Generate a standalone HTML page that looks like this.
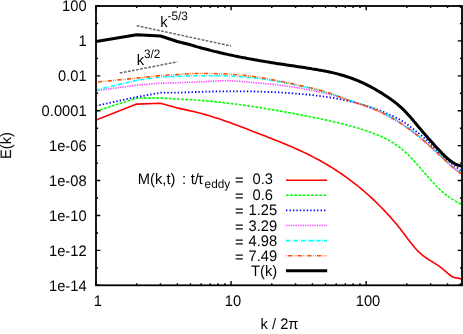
<!DOCTYPE html>
<html><head><meta charset="utf-8"><title>plot</title>
<style>
html,body{margin:0;padding:0;background:#fff;}
body{width:463px;height:334px;position:relative;overflow:hidden;font-family:"Liberation Sans",sans-serif;}
</style></head><body>
<svg width="463" height="334" viewBox="0 0 463 334" style="position:absolute;left:0;top:0">
<defs><clipPath id="c"><rect x="96" y="6" width="366" height="279.3"/></clipPath></defs>
<g clip-path="url(#c)" fill="none" stroke-linejoin="round">
<path d="M96.0,120.0 L136.7,104.1 L160.5,103.3 L177.3,107.9 L190.4,110.9 L192.4,111.3 L194.4,111.8 L196.4,112.3 L198.4,112.8 L200.4,113.3 L202.4,113.8 L204.4,114.4 L206.4,114.9 L208.4,115.5 L210.4,116.1 L212.4,116.7 L214.4,117.4 L216.4,118.0 L218.4,118.6 L220.4,119.3 L222.4,120.0 L224.4,120.7 L226.4,121.4 L228.4,122.1 L230.4,122.8 L232.4,123.5 L234.4,124.3 L236.4,125.0 L238.4,125.8 L240.4,126.5 L242.4,127.3 L244.4,128.1 L246.4,128.8 L248.4,129.6 L250.4,130.4 L252.4,131.2 L254.4,131.9 L256.4,132.7 L258.4,133.5 L260.4,134.3 L262.4,135.0 L264.4,135.8 L266.4,136.6 L268.4,137.4 L270.4,138.1 L272.4,138.9 L274.4,139.7 L276.4,140.5 L278.4,141.3 L280.4,142.1 L282.4,142.9 L284.4,143.7 L286.4,144.6 L288.4,145.4 L290.4,146.3 L292.4,147.1 L294.4,148.0 L296.4,148.9 L298.4,149.8 L300.4,150.7 L302.4,151.6 L304.4,152.6 L306.4,153.5 L308.4,154.5 L310.4,155.5 L312.4,156.6 L314.4,157.6 L316.4,158.7 L318.4,159.7 L320.4,160.8 L322.4,162.0 L324.4,163.1 L326.4,164.3 L328.4,165.5 L330.4,166.7 L332.4,167.9 L334.4,169.2 L336.4,170.5 L338.4,171.8 L340.4,173.1 L342.4,174.5 L344.4,175.9 L346.4,177.3 L348.4,178.8 L350.4,180.3 L352.4,181.8 L354.4,183.3 L356.4,184.9 L358.4,186.5 L360.4,188.1 L362.4,189.8 L364.4,191.5 L366.4,193.3 L368.4,195.0 L370.4,196.9 L372.4,198.7 L374.4,200.6 L376.4,202.5 L378.4,204.5 L380.4,206.5 L382.4,208.5 L384.4,210.6 L386.4,212.7 L388.4,214.9 L390.4,217.1 L392.4,219.4 L394.4,221.7 L396.4,224.1 L398.4,226.6 L400.4,229.1 L402.4,231.7 L404.4,234.3 L406.4,237.0 L408.4,239.7 L410.4,242.3 L412.4,244.8 L414.4,247.3 L416.4,249.5 L418.4,251.6 L420.4,253.4 L422.4,255.1 L424.4,256.6 L426.4,258.0 L428.4,259.3 L430.4,260.6 L432.4,261.8 L434.4,263.1 L436.4,264.4 L438.4,265.7 L440.4,267.2 L442.4,268.7 L444.4,270.4 L446.4,272.2 L448.4,274.0 L450.4,275.5 L452.4,276.8 L454.4,277.6 L456.4,278.0 L458.4,278.1 L460.4,278.7 L462.0,279.9" stroke="#ff0000" stroke-width="1.6"/>
<path d="M96.0,111.1 L136.7,98.2 L160.5,98.0 L177.3,99.0 L190.4,99.8 L192.4,99.9 L194.4,100.0 L196.4,100.2 L198.4,100.3 L200.4,100.5 L202.4,100.6 L204.4,100.8 L206.4,101.0 L208.4,101.1 L210.4,101.3 L212.4,101.5 L214.4,101.7 L216.4,101.9 L218.4,102.1 L220.4,102.3 L222.4,102.5 L224.4,102.8 L226.4,103.0 L228.4,103.2 L230.4,103.5 L232.4,103.7 L234.4,104.0 L236.4,104.2 L238.4,104.5 L240.4,104.8 L242.4,105.0 L244.4,105.3 L246.4,105.6 L248.4,105.9 L250.4,106.2 L252.4,106.5 L254.4,106.8 L256.4,107.1 L258.4,107.4 L260.4,107.7 L262.4,108.1 L264.4,108.4 L266.4,108.7 L268.4,109.1 L270.4,109.4 L272.4,109.7 L274.4,110.1 L276.4,110.4 L278.4,110.8 L280.4,111.1 L282.4,111.5 L284.4,111.9 L286.4,112.2 L288.4,112.6 L290.4,113.0 L292.4,113.3 L294.4,113.7 L296.4,114.1 L298.4,114.5 L300.4,114.8 L302.4,115.2 L304.4,115.6 L306.4,116.0 L308.4,116.4 L310.4,116.8 L312.4,117.2 L314.4,117.6 L316.4,118.0 L318.4,118.4 L320.4,118.9 L322.4,119.3 L324.4,119.7 L326.4,120.1 L328.4,120.6 L330.4,121.0 L332.4,121.5 L334.4,122.0 L336.4,122.4 L338.4,122.9 L340.4,123.4 L342.4,123.9 L344.4,124.4 L346.4,124.9 L348.4,125.5 L350.4,126.0 L352.4,126.5 L354.4,127.1 L356.4,127.7 L358.4,128.2 L360.4,128.8 L362.4,129.5 L364.4,130.1 L366.4,130.8 L368.4,131.4 L370.4,132.2 L372.4,132.9 L374.4,133.7 L376.4,134.4 L378.4,135.3 L380.4,136.1 L382.4,137.0 L384.4,138.0 L386.4,139.0 L388.4,140.1 L390.4,141.2 L392.4,142.4 L394.4,143.7 L396.4,145.0 L398.4,146.4 L400.4,148.0 L402.4,149.6 L404.4,151.3 L406.4,153.1 L408.4,155.0 L410.4,157.0 L412.4,159.1 L414.4,161.2 L416.4,163.5 L418.4,165.7 L420.4,168.0 L422.4,170.4 L424.4,172.7 L426.4,175.0 L428.4,177.3 L430.4,179.5 L432.4,181.8 L434.4,183.9 L436.4,186.0 L438.4,188.0 L440.4,190.0 L442.4,191.8 L444.4,193.6 L446.4,195.2 L448.4,196.7 L450.4,198.1 L452.4,199.4 L454.4,200.6 L456.4,201.7 L458.4,202.7 L460.4,203.8 L462.0,204.6" stroke="#00ff00" stroke-width="1.6" stroke-dasharray="2.77,1.38"/>
<path d="M96.0,105.8 L136.7,97.0 L160.5,92.7 L177.3,92.7 L190.4,92.2 L192.4,92.1 L194.4,92.0 L196.4,92.0 L198.4,91.9 L200.4,91.8 L202.4,91.8 L204.4,91.7 L206.4,91.7 L208.4,91.6 L210.4,91.6 L212.4,91.5 L214.4,91.5 L216.4,91.4 L218.4,91.4 L220.4,91.4 L222.4,91.3 L224.4,91.3 L226.4,91.3 L228.4,91.3 L230.4,91.3 L232.4,91.3 L234.4,91.3 L236.4,91.3 L238.4,91.3 L240.4,91.3 L242.4,91.3 L244.4,91.3 L246.4,91.3 L248.4,91.4 L250.4,91.4 L252.4,91.4 L254.4,91.5 L256.4,91.5 L258.4,91.6 L260.4,91.6 L262.4,91.7 L264.4,91.8 L266.4,91.8 L268.4,91.9 L270.4,92.0 L272.4,92.1 L274.4,92.2 L276.4,92.3 L278.4,92.4 L280.4,92.5 L282.4,92.6 L284.4,92.8 L286.4,92.9 L288.4,93.0 L290.4,93.2 L292.4,93.3 L294.4,93.5 L296.4,93.6 L298.4,93.8 L300.4,93.9 L302.4,94.1 L304.4,94.3 L306.4,94.5 L308.4,94.7 L310.4,94.9 L312.4,95.1 L314.4,95.3 L316.4,95.6 L318.4,95.8 L320.4,96.1 L322.4,96.3 L324.4,96.6 L326.4,96.9 L328.4,97.2 L330.4,97.5 L332.4,97.8 L334.4,98.2 L336.4,98.5 L338.4,98.9 L340.4,99.3 L342.4,99.7 L344.4,100.1 L346.4,100.5 L348.4,100.9 L350.4,101.4 L352.4,101.9 L354.4,102.4 L356.4,102.9 L358.4,103.4 L360.4,104.0 L362.4,104.6 L364.4,105.2 L366.4,105.8 L368.4,106.4 L370.4,107.1 L372.4,107.7 L374.4,108.4 L376.4,109.2 L378.4,109.9 L380.4,110.7 L382.4,111.5 L384.4,112.3 L386.4,113.2 L388.4,114.1 L390.4,115.0 L392.4,115.9 L394.4,116.9 L396.4,117.9 L398.4,118.9 L400.4,120.0 L402.4,121.2 L404.4,122.5 L406.4,123.8 L408.4,125.2 L410.4,126.8 L412.4,128.3 L414.4,129.9 L416.4,131.5 L418.4,133.1 L420.4,134.7 L422.4,136.3 L424.4,138.1 L426.4,139.9 L428.4,141.9 L430.4,144.0 L432.4,146.2 L434.4,148.3 L436.4,150.4 L438.4,152.4 L440.4,154.3 L442.4,156.1 L444.4,157.8 L446.4,159.5 L448.4,161.1 L450.4,162.6 L452.4,164.1 L454.4,165.6 L456.4,167.2 L458.4,168.7 L460.4,170.2 L462.0,171.5" stroke="#0000ff" stroke-width="1.8" stroke-dasharray="1.38,2.08"/>
<path d="M96.0,90.7 L136.7,85.2 L160.5,83.2 L177.3,82.7 L190.4,82.2 L192.4,82.2 L194.4,82.2 L196.4,82.1 L198.4,82.0 L200.4,81.9 L202.4,81.8 L204.4,81.7 L206.4,81.6 L208.4,81.4 L210.4,81.3 L212.4,81.2 L214.4,81.1 L216.4,81.0 L218.4,80.9 L220.4,80.8 L222.4,80.8 L224.4,80.7 L226.4,80.7 L228.4,80.8 L230.4,80.8 L232.4,80.9 L234.4,81.0 L236.4,81.1 L238.4,81.3 L240.4,81.4 L242.4,81.6 L244.4,81.7 L246.4,81.9 L248.4,82.1 L250.4,82.3 L252.4,82.5 L254.4,82.7 L256.4,82.8 L258.4,83.0 L260.4,83.2 L262.4,83.4 L264.4,83.6 L266.4,83.8 L268.4,84.0 L270.4,84.2 L272.4,84.4 L274.4,84.6 L276.4,84.9 L278.4,85.1 L280.4,85.3 L282.4,85.6 L284.4,85.8 L286.4,86.1 L288.4,86.4 L290.4,86.7 L292.4,86.9 L294.4,87.3 L296.4,87.6 L298.4,87.9 L300.4,88.2 L302.4,88.6 L304.4,89.0 L306.4,89.3 L308.4,89.7 L310.4,90.1 L312.4,90.5 L314.4,90.9 L316.4,91.4 L318.4,91.8 L320.4,92.2 L322.4,92.7 L324.4,93.1 L326.4,93.6 L328.4,94.1 L330.4,94.6 L332.4,95.2 L334.4,95.8 L336.4,96.4 L338.4,97.0 L340.4,97.6 L342.4,98.3 L344.4,99.0 L346.4,99.7 L348.4,100.3 L350.4,101.0 L352.4,101.7 L354.4,102.3 L356.4,103.0 L358.4,103.6 L360.4,104.3 L362.4,105.0 L364.4,105.7 L366.4,106.5 L368.4,107.2 L370.4,108.0 L372.4,108.8 L374.4,109.6 L376.4,110.5 L378.4,111.4 L380.4,112.3 L382.4,113.2 L384.4,114.2 L386.4,115.2 L388.4,116.2 L390.4,117.3 L392.4,118.4 L394.4,119.5 L396.4,120.7 L398.4,122.0 L400.4,123.2 L402.4,124.5 L404.4,125.9 L406.4,127.3 L408.4,128.7 L410.4,130.2 L412.4,131.7 L414.4,133.3 L416.4,134.9 L418.4,136.5 L420.4,138.1 L422.4,139.8 L424.4,141.5 L426.4,143.2 L428.4,145.0 L430.4,146.8 L432.4,148.6 L434.4,150.4 L436.4,152.3 L438.4,154.2 L440.4,156.1 L442.4,158.0 L444.4,159.8 L446.4,161.7 L448.4,163.5 L450.4,165.3 L452.4,167.1 L454.4,168.7 L456.4,170.3 L458.4,171.8 L460.4,173.3 L462.0,174.3" stroke="#ff00ff" stroke-width="1.6" stroke-dasharray="0.69,1.04"/>
<path d="M96.0,90.2 L136.7,80.2 L160.5,77.1 L177.3,76.4 L190.4,75.9 L192.4,75.9 L194.4,75.8 L196.4,75.8 L198.4,75.8 L200.4,75.8 L202.4,75.8 L204.4,75.8 L206.4,75.8 L208.4,75.8 L210.4,75.8 L212.4,75.8 L214.4,75.8 L216.4,75.8 L218.4,75.8 L220.4,75.9 L222.4,75.9 L224.4,76.0 L226.4,76.0 L228.4,76.1 L230.4,76.2 L232.4,76.3 L234.4,76.4 L236.4,76.5 L238.4,76.6 L240.4,76.7 L242.4,76.9 L244.4,77.0 L246.4,77.2 L248.4,77.4 L250.4,77.6 L252.4,77.8 L254.4,78.0 L256.4,78.2 L258.4,78.5 L260.4,78.7 L262.4,79.0 L264.4,79.3 L266.4,79.6 L268.4,79.9 L270.4,80.2 L272.4,80.5 L274.4,80.9 L276.4,81.2 L278.4,81.6 L280.4,81.9 L282.4,82.3 L284.4,82.7 L286.4,83.1 L288.4,83.5 L290.4,83.9 L292.4,84.3 L294.4,84.7 L296.4,85.1 L298.4,85.6 L300.4,86.0 L302.4,86.5 L304.4,86.9 L306.4,87.4 L308.4,87.8 L310.4,88.3 L312.4,88.8 L314.4,89.3 L316.4,89.8 L318.4,90.3 L320.4,90.8 L322.4,91.4 L324.4,91.9 L326.4,92.5 L328.4,93.1 L330.4,93.7 L332.4,94.4 L334.4,95.0 L336.4,95.7 L338.4,96.4 L340.4,97.1 L342.4,97.8 L344.4,98.5 L346.4,99.2 L348.4,99.9 L350.4,100.5 L352.4,101.2 L354.4,101.9 L356.4,102.5 L358.4,103.2 L360.4,103.8 L362.4,104.5 L364.4,105.2 L366.4,105.9 L368.4,106.6 L370.4,107.4 L372.4,108.1 L374.4,108.9 L376.4,109.8 L378.4,110.6 L380.4,111.5 L382.4,112.5 L384.4,113.5 L386.4,114.5 L388.4,115.6 L390.4,116.7 L392.4,117.8 L394.4,119.0 L396.4,120.2 L398.4,121.4 L400.4,122.7 L402.4,124.0 L404.4,125.4 L406.4,126.8 L408.4,128.2 L410.4,129.7 L412.4,131.2 L414.4,132.7 L416.4,134.3 L418.4,135.9 L420.4,137.5 L422.4,139.2 L424.4,140.9 L426.4,142.6 L428.4,144.4 L430.4,146.2 L432.4,148.0 L434.4,149.8 L436.4,151.7 L438.4,153.6 L440.4,155.5 L442.4,157.4 L444.4,159.3 L446.4,161.1 L448.4,163.0 L450.4,164.8 L452.4,166.5 L454.4,168.2 L456.4,169.7 L458.4,171.3 L460.4,172.7 L462.0,173.7" stroke="#00ffff" stroke-width="1.6" stroke-dasharray="4.15,1.38,0.69,1.38"/>
<path d="M96.0,82.2 L136.7,78.1 L160.5,75.6 L177.3,74.6 L190.4,73.6 L192.4,73.6 L194.4,73.5 L196.4,73.5 L198.4,73.5 L200.4,73.5 L202.4,73.5 L204.4,73.5 L206.4,73.5 L208.4,73.5 L210.4,73.5 L212.4,73.6 L214.4,73.6 L216.4,73.7 L218.4,73.7 L220.4,73.8 L222.4,73.9 L224.4,73.9 L226.4,74.0 L228.4,74.2 L230.4,74.3 L232.4,74.4 L234.4,74.5 L236.4,74.7 L238.4,74.9 L240.4,75.0 L242.4,75.2 L244.4,75.4 L246.4,75.7 L248.4,75.9 L250.4,76.1 L252.4,76.4 L254.4,76.7 L256.4,77.0 L258.4,77.3 L260.4,77.6 L262.4,77.9 L264.4,78.2 L266.4,78.6 L268.4,78.9 L270.4,79.3 L272.4,79.7 L274.4,80.1 L276.4,80.4 L278.4,80.8 L280.4,81.2 L282.4,81.7 L284.4,82.1 L286.4,82.5 L288.4,82.9 L290.4,83.4 L292.4,83.8 L294.4,84.2 L296.4,84.7 L298.4,85.1 L300.4,85.6 L302.4,86.0 L304.4,86.5 L306.4,86.9 L308.4,87.4 L310.4,87.8 L312.4,88.3 L314.4,88.8 L316.4,89.3 L318.4,89.8 L320.4,90.4 L322.4,90.9 L324.4,91.5 L326.4,92.1 L328.4,92.7 L330.4,93.4 L332.4,94.1 L334.4,94.8 L336.4,95.6 L338.4,96.4 L340.4,97.2 L342.4,98.0 L344.4,98.7 L346.4,99.5 L348.4,100.2 L350.4,100.9 L352.4,101.6 L354.4,102.2 L356.4,102.9 L358.4,103.5 L360.4,104.2 L362.4,104.8 L364.4,105.5 L366.4,106.2 L368.4,106.9 L370.4,107.6 L372.4,108.4 L374.4,109.2 L376.4,110.1 L378.4,110.9 L380.4,111.8 L382.4,112.8 L384.4,113.8 L386.4,114.8 L388.4,115.8 L390.4,116.9 L392.4,118.1 L394.4,119.3 L396.4,120.5 L398.4,121.7 L400.4,123.0 L402.4,124.3 L404.4,125.7 L406.4,127.1 L408.4,128.5 L410.4,130.0 L412.4,131.5 L414.4,133.0 L416.4,134.6 L418.4,136.2 L420.4,137.8 L422.4,139.5 L424.4,141.2 L426.4,142.9 L428.4,144.7 L430.4,146.4 L432.4,148.3 L434.4,150.1 L436.4,152.0 L438.4,153.9 L440.4,155.8 L442.4,157.7 L444.4,159.6 L446.4,161.5 L448.4,163.3 L450.4,165.1 L452.4,166.8 L454.4,168.5 L456.4,170.1 L458.4,171.6 L460.4,173.0 L462.0,174.0" stroke="#ff4d00" stroke-width="1.6" stroke-dasharray="0.69,1.38,4.15,1.38,0.69,1.38"/>
<path d="M96.0,41.5 L136.7,34.7 L160.5,36.0 L177.3,41.5 L190.4,44.8 L192.4,45.4 L194.4,46.0 L196.4,46.6 L198.4,47.1 L200.4,47.7 L202.4,48.3 L204.4,48.8 L206.4,49.3 L208.4,49.8 L210.4,50.4 L212.4,50.9 L214.4,51.4 L216.4,51.8 L218.4,52.3 L220.4,52.8 L222.4,53.2 L224.4,53.7 L226.4,54.1 L228.4,54.6 L230.4,55.0 L232.4,55.4 L234.4,55.9 L236.4,56.3 L238.4,56.7 L240.4,57.1 L242.4,57.5 L244.4,57.8 L246.4,58.2 L248.4,58.6 L250.4,59.0 L252.4,59.3 L254.4,59.7 L256.4,60.0 L258.4,60.4 L260.4,60.7 L262.4,61.1 L264.4,61.4 L266.4,61.8 L268.4,62.1 L270.4,62.4 L272.4,62.7 L274.4,63.1 L276.4,63.4 L278.4,63.7 L280.4,64.0 L282.4,64.3 L284.4,64.6 L286.4,64.9 L288.4,65.2 L290.4,65.5 L292.4,65.8 L294.4,66.1 L296.4,66.4 L298.4,66.7 L300.4,67.0 L302.4,67.3 L304.4,67.6 L306.4,67.9 L308.4,68.2 L310.4,68.5 L312.4,68.9 L314.4,69.2 L316.4,69.5 L318.4,69.9 L320.4,70.2 L322.4,70.6 L324.4,71.0 L326.4,71.4 L328.4,71.8 L330.4,72.2 L332.4,72.6 L334.4,73.1 L336.4,73.6 L338.4,74.1 L340.4,74.7 L342.4,75.2 L344.4,75.8 L346.4,76.5 L348.4,77.1 L350.4,77.8 L352.4,78.5 L354.4,79.3 L356.4,80.1 L358.4,80.9 L360.4,81.8 L362.4,82.7 L364.4,83.6 L366.4,84.6 L368.4,85.6 L370.4,86.6 L372.4,87.7 L374.4,88.8 L376.4,90.0 L378.4,91.2 L380.4,92.4 L382.4,93.6 L384.4,94.9 L386.4,96.2 L388.4,97.5 L390.4,98.9 L392.4,100.4 L394.4,101.9 L396.4,103.4 L398.4,105.1 L400.4,106.9 L402.4,108.7 L404.4,110.6 L406.4,112.7 L408.4,114.9 L410.4,117.1 L412.4,119.5 L414.4,121.9 L416.4,124.3 L418.4,126.8 L420.4,129.1 L422.4,131.5 L424.4,133.8 L426.4,136.1 L428.4,138.4 L430.4,140.6 L432.4,142.8 L434.4,145.1 L436.4,147.2 L438.4,149.4 L440.4,151.5 L442.4,153.6 L444.4,155.6 L446.4,157.5 L448.4,159.2 L450.4,160.8 L452.4,162.3 L454.4,163.5 L456.4,164.5 L458.4,165.3 L460.4,165.8 L462.0,166.0" stroke="#000000" stroke-width="3.0"/>
<path d="M136.7,25.7 L231.1,46.0" stroke="#6a6a6a" stroke-width="1.5" stroke-dasharray="2.77,1.38"/>
<path d="M119.8,73.1 L177.3,61.8" stroke="#6a6a6a" stroke-width="1.5" stroke-dasharray="2.77,1.38"/>
</g>
<g stroke="#000" fill="none">
<rect x="96.0" y="6.0" width="366.0" height="279.3" stroke-width="1.8"/>
<path d="M96.0,6.00 h4.3 M462.0,6.00 h-4.3 M96.0,23.46 h2.1 M462.0,23.46 h-2.1 M96.0,40.91 h4.3 M462.0,40.91 h-4.3 M96.0,58.37 h2.1 M462.0,58.37 h-2.1 M96.0,75.83 h4.3 M462.0,75.83 h-4.3 M96.0,93.28 h2.1 M462.0,93.28 h-2.1 M96.0,110.74 h4.3 M462.0,110.74 h-4.3 M96.0,128.19 h2.1 M462.0,128.19 h-2.1 M96.0,145.65 h4.3 M462.0,145.65 h-4.3 M96.0,163.11 h2.1 M462.0,163.11 h-2.1 M96.0,180.56 h4.3 M462.0,180.56 h-4.3 M96.0,198.02 h2.1 M462.0,198.02 h-2.1 M96.0,215.48 h4.3 M462.0,215.48 h-4.3 M96.0,232.93 h2.1 M462.0,232.93 h-2.1 M96.0,250.39 h4.3 M462.0,250.39 h-4.3 M96.0,267.84 h2.1 M462.0,267.84 h-2.1 M96.0,285.30 h4.3 M462.0,285.30 h-4.3 M96.00,285.3 v-4.3 M96.00,6.0 v4.3 M136.67,285.3 v-2.1 M136.67,6.0 v2.1 M160.46,285.3 v-2.1 M160.46,6.0 v2.1 M177.33,285.3 v-2.1 M177.33,6.0 v2.1 M190.43,285.3 v-2.1 M190.43,6.0 v2.1 M201.12,285.3 v-2.1 M201.12,6.0 v2.1 M210.17,285.3 v-2.1 M210.17,6.0 v2.1 M218.00,285.3 v-2.1 M218.00,6.0 v2.1 M224.91,285.3 v-2.1 M224.91,6.0 v2.1 M231.09,285.3 v-4.3 M231.09,6.0 v4.3 M271.76,285.3 v-2.1 M271.76,6.0 v2.1 M295.55,285.3 v-2.1 M295.55,6.0 v2.1 M312.43,285.3 v-2.1 M312.43,6.0 v2.1 M325.52,285.3 v-2.1 M325.52,6.0 v2.1 M336.21,285.3 v-2.1 M336.21,6.0 v2.1 M345.26,285.3 v-2.1 M345.26,6.0 v2.1 M353.09,285.3 v-2.1 M353.09,6.0 v2.1 M360.00,285.3 v-2.1 M360.00,6.0 v2.1 M366.18,285.3 v-4.3 M366.18,6.0 v4.3 M406.85,285.3 v-2.1 M406.85,6.0 v2.1 M430.64,285.3 v-2.1 M430.64,6.0 v2.1 M447.52,285.3 v-2.1 M447.52,6.0 v2.1 M460.61,285.3 v-2.1 M460.61,6.0 v2.1" stroke-width="1.4"/>
</g>
<g fill="none">
<path d="M286.0,180.2 H327.2" stroke="#ff0000" stroke-width="1.6"/>
<path d="M286.0,195.3 H327.2" stroke="#00ff00" stroke-width="1.6" stroke-dasharray="2.77,1.38"/>
<path d="M286.0,210.4 H327.2" stroke="#0000ff" stroke-width="1.8" stroke-dasharray="1.38,2.08"/>
<path d="M286.0,225.5 H327.2" stroke="#ff00ff" stroke-width="1.6" stroke-dasharray="0.69,1.04"/>
<path d="M286.0,240.6 H327.2" stroke="#00ffff" stroke-width="1.6" stroke-dasharray="4.15,1.38,0.69,1.38"/>
<path d="M286.0,255.7 H327.2" stroke="#ff4d00" stroke-width="1.6" stroke-dasharray="0.69,1.38,4.15,1.38,0.69,1.38"/>
<path d="M286.0,270.8 H327.2" stroke="#000000" stroke-width="3.0"/>
</g>
<g font-family="Liberation Sans, sans-serif" fill="#000" text-rendering="geometricPrecision" opacity="0.99">
<text transform="translate(86.6,11.2) scale(0.963,1)" text-anchor="end" font-size="15.28">100</text>
<text transform="translate(86.6,46.1) scale(0.963,1)" text-anchor="end" font-size="15.28">1</text>
<text transform="translate(86.6,81.0) scale(0.963,1)" text-anchor="end" font-size="15.28">0.01</text>
<text transform="translate(86.6,115.9) scale(0.963,1)" text-anchor="end" font-size="15.28">0.0001</text>
<text transform="translate(86.6,150.8) scale(0.963,1)" text-anchor="end" font-size="15.28">1e-06</text>
<text transform="translate(86.6,185.8) scale(0.963,1)" text-anchor="end" font-size="15.28">1e-08</text>
<text transform="translate(86.6,220.7) scale(0.963,1)" text-anchor="end" font-size="15.28">1e-10</text>
<text transform="translate(86.6,255.6) scale(0.963,1)" text-anchor="end" font-size="15.28">1e-12</text>
<text transform="translate(86.6,290.5) scale(0.963,1)" text-anchor="end" font-size="15.28">1e-14</text>
<text transform="translate(97.8,306.3) scale(0.963,1)" text-anchor="middle" font-size="15.28">1</text>
<text transform="translate(232.9,306.3) scale(0.963,1)" text-anchor="middle" font-size="15.28">10</text>
<text transform="translate(368.0,306.3) scale(0.963,1)" text-anchor="middle" font-size="15.28">100</text>
<text transform="translate(279.5,328.7) scale(0.963,1)" text-anchor="middle" font-size="15.28">k / 2π</text>
<text transform="translate(11.1,145.5) rotate(-90) scale(0.963,1)" text-anchor="middle" font-size="15.28">E(k)</text>
<text transform="translate(160.2,27) scale(0.963,1)" text-anchor="start" font-size="15.28">k<tspan dy="-6.9" font-size="12.22">-5/3</tspan></text>
<text transform="translate(136.7,65.0) scale(0.963,1)" text-anchor="start" font-size="15.28">k<tspan dy="-7.0" font-size="12.22">3/2</tspan></text>
<text transform="translate(137.8,184.1) scale(0.963,1)" text-anchor="start" font-size="15.28">M(k,t)</text>
<text transform="translate(181.9,184.1) scale(0.963,1)" text-anchor="start" font-size="15.28">:</text>
<text transform="translate(190.7,184.1) scale(0.963,1)" text-anchor="start" font-size="15.28">t/</text>
<text transform="translate(197.6,184.1) scale(0.963,1)" text-anchor="start" font-size="15.78">τ</text>
<text transform="translate(204.6,188.0) scale(0.963,1)" text-anchor="start" font-size="12.22">eddy</text>
<text transform="translate(234.9,185.1) scale(0.963,1)" text-anchor="start" font-size="15.28">=</text>
<text transform="translate(273.0,184.1) scale(0.963,1)" text-anchor="end" font-size="15.28">0.3</text>
<text transform="translate(234.9,201.1) scale(0.963,1)" text-anchor="start" font-size="15.28">=</text>
<text transform="translate(273.0,200.1) scale(0.963,1)" text-anchor="end" font-size="15.28">0.6</text>
<text transform="translate(234.9,216.3) scale(0.963,1)" text-anchor="start" font-size="15.28">=</text>
<text transform="translate(277.2,215.3) scale(0.963,1)" text-anchor="end" font-size="15.28">1.25</text>
<text transform="translate(234.9,231.7) scale(0.963,1)" text-anchor="start" font-size="15.28">=</text>
<text transform="translate(277.2,230.7) scale(0.963,1)" text-anchor="end" font-size="15.28">3.29</text>
<text transform="translate(234.9,247.2) scale(0.963,1)" text-anchor="start" font-size="15.28">=</text>
<text transform="translate(277.2,246.2) scale(0.963,1)" text-anchor="end" font-size="15.28">4.98</text>
<text transform="translate(234.9,262.4) scale(0.963,1)" text-anchor="start" font-size="15.28">=</text>
<text transform="translate(277.2,261.4) scale(0.963,1)" text-anchor="end" font-size="15.28">7.49</text>
<text transform="translate(277.2,275.8) scale(0.963,1)" text-anchor="end" font-size="15.28">T(k)</text>
</g>
</svg>
</body></html>
